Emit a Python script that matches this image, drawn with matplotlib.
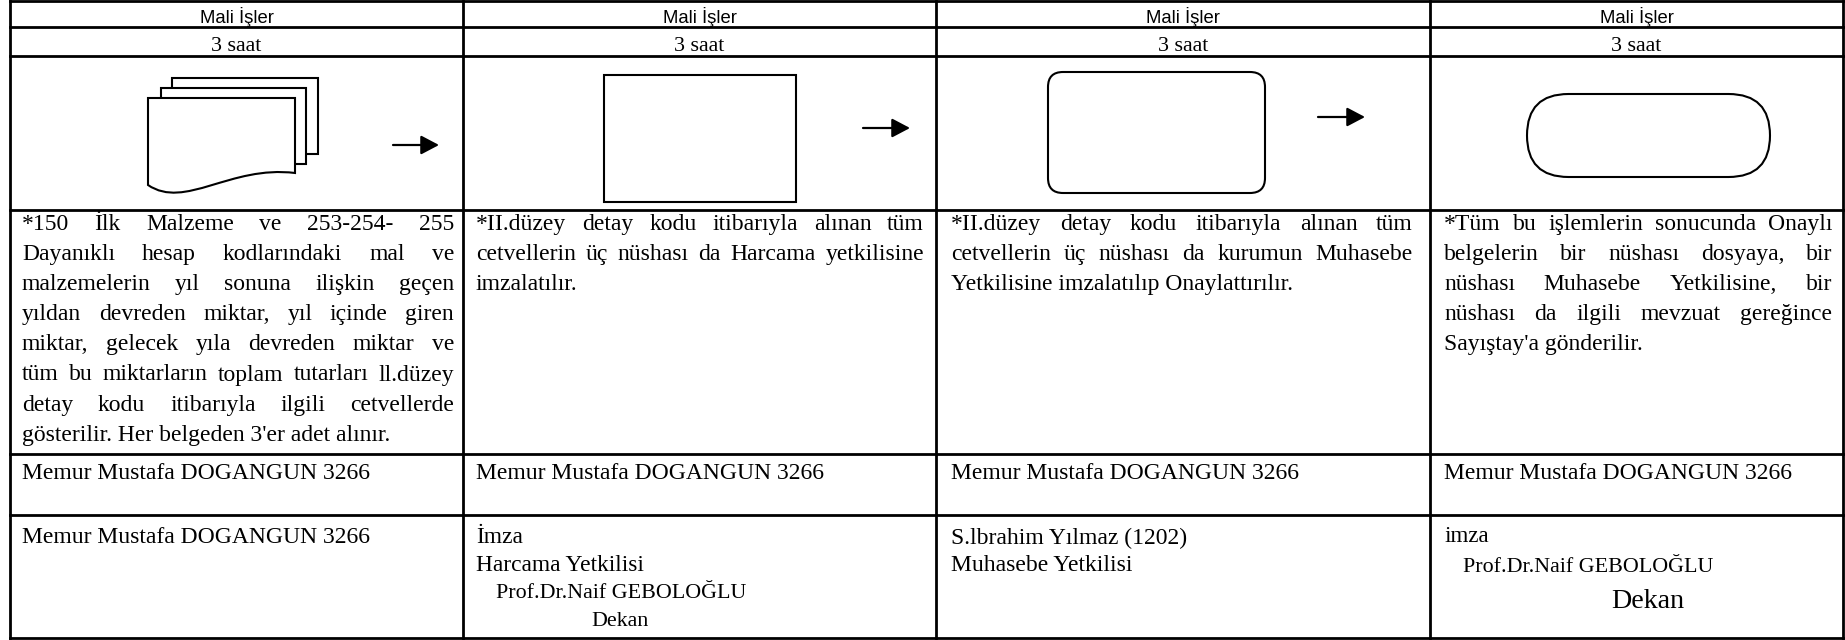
import matplotlib
matplotlib.use('Agg')
import matplotlib.pyplot as plt
from matplotlib.patches import Rectangle, FancyBboxPatch, PathPatch
from matplotlib.path import Path

# tablo verileri
birimler = ['Mali İşler', 'Mali İşler', 'Mali İşler', 'Mali İşler']
sureler = ['3 saat', '3 saat', '3 saat', '3 saat']

aciklama = [
    ['*150 İlk Malzeme ve 253-254- 255',
     'Dayanıklı hesap kodlarındaki mal ve',
     'malzemelerin yıl sonuna ilişkin geçen',
     'yıldan devreden miktar, yıl içinde giren',
     'miktar, gelecek yıla devreden miktar ve',
     'tüm bu miktarların toplam tutarları ll.düzey',
     'detay kodu itibarıyla ilgili cetvellerde',
     "gösterilir. Her belgeden 3'er adet alınır."],
    ['*II.düzey detay kodu itibarıyla alınan tüm',
     'cetvellerin üç nüshası da Harcama yetkilisine',
     'imzalatılır.'],
    ['*II.düzey detay kodu itibarıyla alınan tüm',
     'cetvellerin üç nüshası da kurumun Muhasebe',
     'Yetkilisine imzalatılıp Onaylattırılır.'],
    ['*Tüm bu işlemlerin sonucunda Onaylı',
     'belgelerin bir nüshası dosyaya, bir',
     'nüshası Muhasebe Yetkilisine, bir',
     'nüshası da ilgili mevzuat gereğince',
     "Sayıştay'a gönderilir."],
]

sorumlu = ['Memur Mustafa DOGANGUN 3266', 'Memur Mustafa DOGANGUN 3266',
           'Memur Mustafa DOGANGUN 3266', 'Memur Mustafa DOGANGUN 3266']

onay = [
    ['Memur Mustafa DOGANGUN 3266'],
    ['İmza', 'Harcama Yetkilisi', 'Prof.Dr.Naif GEBOLOĞLU', 'Dekan'],
    ['S.lbrahim Yılmaz (1202)', 'Muhasebe Yetkilisi'],
    ['imza', 'Prof.Dr.Naif GEBOLOĞLU', 'Dekan'],
]

# yerlesim (piksel)
W, H = 1845, 640
sutun = [10, 463, 936, 1430, 1843]
satir = [1, 27, 56, 210, 454, 515, 638]
metin_sol = [22, 476, 951, 1444]
metin_sag = [454, 924, 1413, 1832]
# son satir: (x kaymasi, taban cizgisi, boyut px)
onay_yer = [
    [(0, 543, 23.6)],
    [(0, 543, 23.5), (0, 571, 23.5), (20, 598, 22), (115, 626, 22)],
    [(0, 544, 23.6), (0, 571, 23.6)],
    [(0, 542, 23), (19, 572, 22), (167, 608, 28)],
]

PX = 0.72  # px -> pt (dpi 100)
SERIF = 'Liberation Serif'
SANS = 'Liberation Sans'

fig = plt.figure(figsize=(W / 100, H / 100), dpi=100)
ax = fig.add_axes([0, 0, 1, 1])
ax.set_xlim(0, W)
ax.set_ylim(H, 0)
ax.axis('off')

# cerceve cizgileri
for y in satir:
    ax.plot([sutun[0], sutun[-1]], [y, y], color='black', lw=2.0, solid_capstyle='projecting')
for x in sutun:
    ax.plot([x, x], [satir[0], satir[-1]], color='black', lw=2.0, solid_capstyle='projecting')

# baslik satirlari
for i in range(4):
    xm = (sutun[i] + sutun[i + 1]) / 2
    ax.text(xm, 23, birimler[i], fontsize=18.5 * PX, family=SANS, ha='center', va='baseline')
    ax.text(xm, 51, sureler[i], fontsize=22 * PX, family=SERIF, ha='center', va='baseline')

# semboller
lw_s = 1.5
# coklu belge
for (x0, y0, x1, y1) in [(172, 78, 318, 154), (161, 88, 306, 164)]:
    ax.add_patch(Rectangle((x0, y0), x1 - x0, y1 - y0, fc='white', ec='black', lw=lw_s))
belge = Path([(148, 98), (295, 98), (295, 173), (230, 165), (185, 210), (148, 185), (148, 98)],
             [Path.MOVETO, Path.LINETO, Path.LINETO, Path.CURVE4, Path.CURVE4, Path.CURVE4, Path.CLOSEPOLY])
ax.add_patch(PathPatch(belge, fc='white', ec='black', lw=lw_s))
# islem
ax.add_patch(Rectangle((604, 75), 192, 127, fc='white', ec='black', lw=lw_s))
# yuvarlak kose
ax.add_patch(FancyBboxPatch((1048, 72), 217, 121, boxstyle='round,pad=0,rounding_size=15',
                            fc='white', ec='black', lw=lw_s))
# bitis
ax.add_patch(FancyBboxPatch((1527, 94), 243, 83, boxstyle='round,pad=0,rounding_size=41.5',
                            fc='white', ec='black', lw=lw_s))

# oklar
for (x0, x1, y) in [(393, 439, 145), (863, 910, 128), (1318, 1365, 117)]:
    ax.annotate('', xy=(x1, y), xytext=(x0, y),
                arrowprops=dict(arrowstyle='-|>,head_length=0.55,head_width=0.29',
                                mutation_scale=20, lw=1.6, color='black',
                                shrinkA=0, shrinkB=0))

# aciklama metinleri (iki yana yasli)
r = fig.canvas.get_renderer()
fs = 23.6 * PX
taban0, aralik = 230, 30.1
for i in range(4):
    satirlar = aciklama[i]
    for j, s in enumerate(satirlar):
        y = taban0 + j * aralik
        son = (j == len(satirlar) - 1)
        if son:
            ax.text(metin_sol[i], y, s, fontsize=fs, family=SERIF, va='baseline')
            continue
        kel = s.split()
        tt = [ax.text(0, y, k, fontsize=fs, family=SERIF, va='baseline') for k in kel]
        gen = [t.get_window_extent(r).width for t in tt]
        bos = (metin_sag[i] - metin_sol[i] - sum(gen)) / (len(kel) - 1)
        x = metin_sol[i]
        for t, g in zip(tt, gen):
            t.set_x(x)
            x += g + bos

# sorumlu satiri
for i in range(4):
    ax.text(metin_sol[i], 479, sorumlu[i], fontsize=fs, family=SERIF, va='baseline')

# onay satiri
for i in range(4):
    for s, (dx, y, boy) in zip(onay[i], onay_yer[i]):
        ax.text(metin_sol[i] + dx, y, s, fontsize=boy * PX, family=SERIF, va='baseline')

fig.savefig('out.png', dpi=100)
